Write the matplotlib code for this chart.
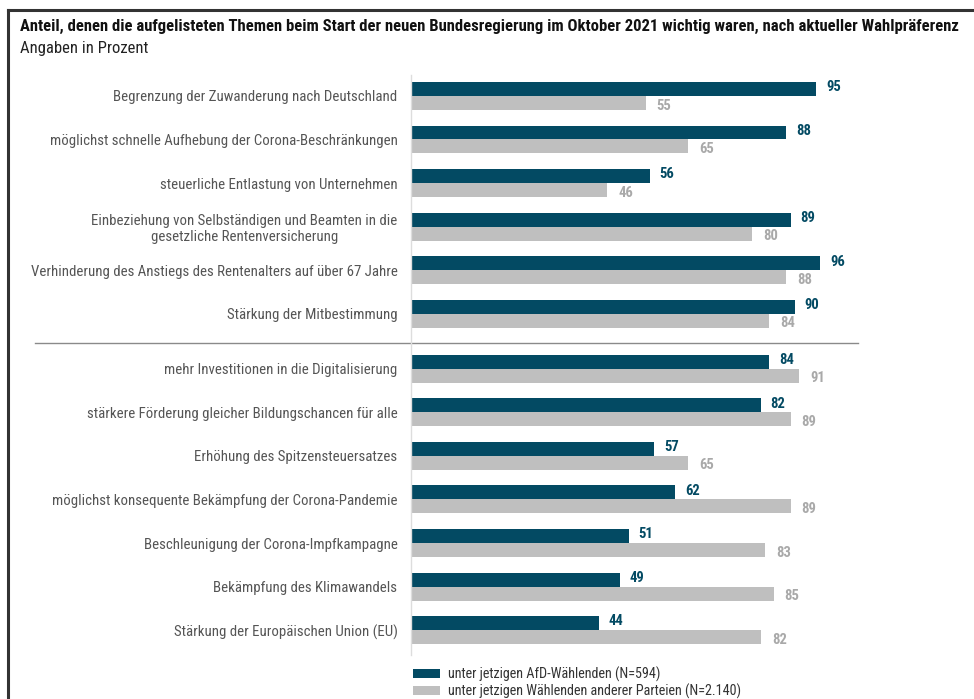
import matplotlib; matplotlib.use('Agg')
import matplotlib.pyplot as plt
import matplotlib.transforms as mtransforms
from matplotlib.patches import Patch
from matplotlib.lines import Line2D
import numpy as np

DARK, GRAY, GRAYTXT, LABEL = '#034a63', '#bfbfbf', '#a9a9a9', '#555555'
NARROW = ['Roboto Condensed', 'Liberation Sans Narrow', 'Liberation Sans', 'DejaVu Sans']

topics = [
    'Begrenzung der Zuwanderung nach Deutschland',
    'möglichst schnelle Aufhebung der Corona-Beschränkungen',
    'steuerliche Entlastung von Unternehmen',
    'Einbeziehung von Selbständigen und Beamten in die\ngesetzliche Rentenversicherung',
    'Verhinderung des Anstiegs des Rentenalters auf über 67 Jahre',
    'Stärkung der Mitbestimmung',
    'mehr Investitionen in die Digitalisierung',
    'stärkere Förderung gleicher Bildungschancen für alle',
    'Erhöhung des Spitzensteuersatzes',
    'möglichst konsequente Bekämpfung der Corona-Pandemie',
    'Beschleunigung der Corona-Impfkampagne',
    'Bekämpfung des Klimawandels',
    'Stärkung der Europäischen Union (EU)',
]
afd = [95, 88, 56, 89, 96, 90, 84, 82, 57, 62, 51, 49, 44]
andere = [55, 65, 46, 80, 88, 84, 91, 89, 65, 89, 83, 85, 82]
legend_labels = ['unter jetzigen AfD-Wählenden (N=594)',
                 'unter jetzigen Wählenden anderer Parteien (N=2.140)']

W, H = 974, 699
fig = plt.figure(figsize=(W / 100, H / 100), dpi=100)
ax = fig.add_axes([411 / W, 1 - 655 / H, 426.5 / W, 580 / H])

n = len(topics)
pos = np.arange(n) + (np.arange(n) >= 6) * 0.26
bh = 0.32

ax.barh(pos - bh / 2, afd, height=bh, color=DARK)
ax.barh(pos + bh / 2, andere, height=bh, color=GRAY)

for p, a, b in zip(pos, afd, andere):
    ax.text(a + 2.3, p - bh / 2 - 0.04, str(a), ha='left', va='center',
            fontsize=10.5, fontweight='bold', color=DARK, family=NARROW, clip_on=False)
    ax.text(b + 2.6, p + bh / 2 + 0.06, str(b), ha='left', va='center',
            fontsize=10.5, fontweight='bold', color=GRAYTXT, family=NARROW, clip_on=False)

ax.set_xlim(0, 100)
ax.set_ylim(pos[-1] + 0.57, -0.48)
ax.set_yticks(pos)
ax.set_yticklabels(topics, fontsize=10.7, color=LABEL, family=NARROW,
                   multialignment='center')
ax.tick_params(axis='y', length=0, pad=9.8)
ax.set_xticks([])
for s in ['top', 'right', 'bottom']:
    ax.spines[s].set_visible(False)
ax.spines['left'].set_color('#dddddd')
ax.spines['left'].set_linewidth(1)

# separator between the two topic groups
trans = mtransforms.blended_transform_factory(ax.transAxes, ax.transData)
ax.plot([(35 - 411) / 426.5, (858 - 411) / 426.5], [5.67, 5.67], transform=trans,
        color='#8a8a8a', lw=1, clip_on=False)

# frame
fig.add_artist(Line2D([8 / W, 1], [1 - 10 / H, 1 - 10 / H], color='#333333', lw=2.2))
fig.add_artist(Line2D([8 / W, 8 / W], [0, 1 - 10 / H], color='#333333', lw=2.2))

fig.text(20 / W, 1 - 26 / H,
         'Anteil, denen die aufgelisteten Themen beim Start der neuen Bundesregierung '
         'im Oktober 2021 wichtig waren, nach aktueller Wahlpräferenz',
         fontsize=12, fontweight='bold', color='#111111', family=NARROW, va='center')
fig.text(20 / W, 1 - 48 / H, 'Angaben in Prozent', fontsize=12, color='#222222',
         family=NARROW, va='center')

handles = [Patch(facecolor=DARK, label=legend_labels[0]),
           Patch(facecolor=GRAY, label=legend_labels[1])]
fig.legend(handles=handles, loc='upper left', bbox_to_anchor=(404 / W, 1 - 658 / H),
           frameon=False, prop={'family': NARROW, 'size': 10.2}, handlelength=1.97,
           handleheight=0.7, handletextpad=0.56, labelspacing=0.12, borderpad=0.1,
           labelcolor='#333333')

fig.savefig('out.png', dpi=100)
